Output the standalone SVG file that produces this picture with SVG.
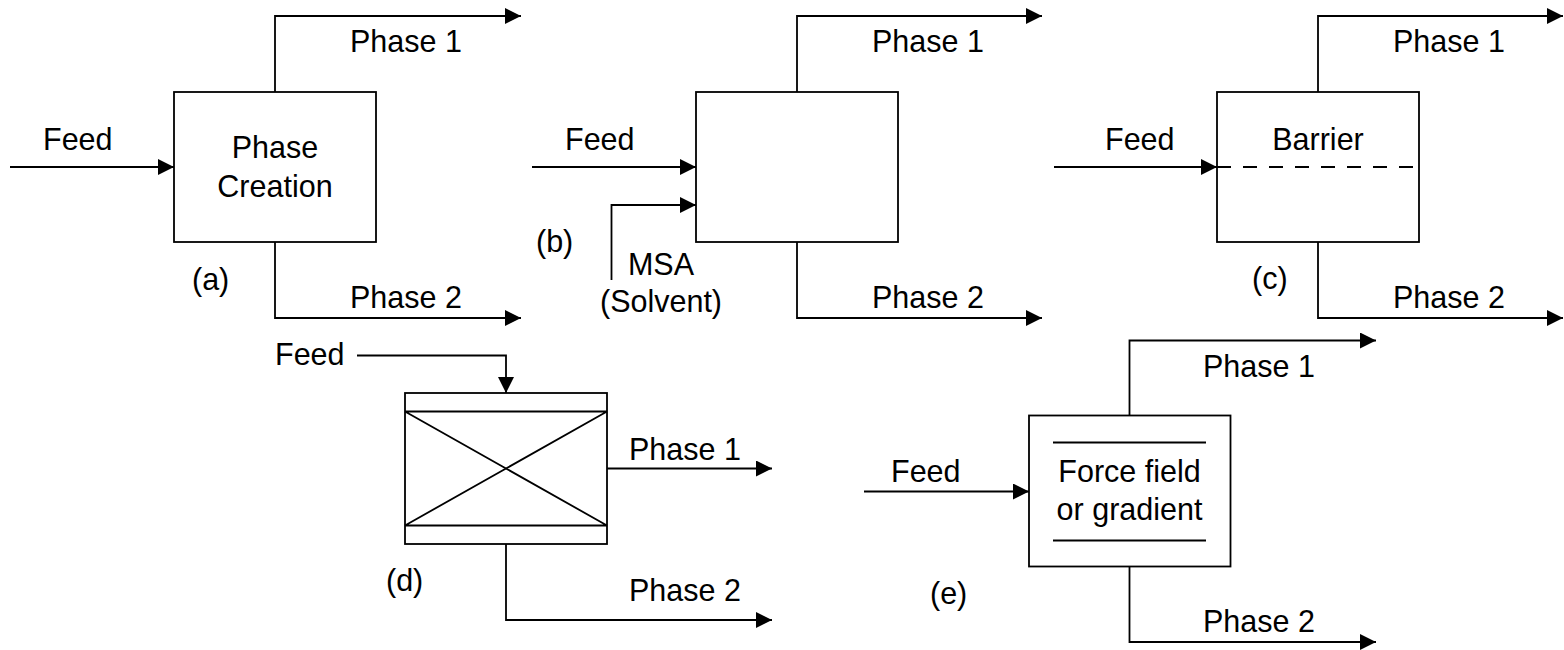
<svg xmlns="http://www.w3.org/2000/svg" width="1564" height="650" viewBox="0 0 1564 650">
<style>
.box{fill:#fff;stroke:#000;stroke-width:1.8}
.ln{fill:none;stroke:#000;stroke-width:1.8}
.pipe{fill:none;stroke:#000;stroke-width:1.8;marker-end:url(#ah)}
.dash{fill:none;stroke:#000;stroke-width:1.8;stroke-dasharray:14 12}
text{font-family:"Liberation Sans",Arial,sans-serif;font-size:30.5px;fill:#000}
.c{text-anchor:middle}
</style>
<defs>
<marker id="ah" markerUnits="userSpaceOnUse" markerWidth="16" markerHeight="16" refX="16" refY="8" orient="auto">
<path d="M0,0 L16,8 L0,16 Z" fill="#000"/>
</marker>
</defs>
<rect width="1564" height="650" fill="#fff"/>

<g id="connectors">
<!-- (a) -->
<path class="pipe" d="M10,167 H174"/>
<path class="pipe" d="M275,92 V16 H521"/>
<path class="pipe" d="M275,242 V318 H521"/>
<!-- (b) -->
<path class="pipe" d="M532,167 H696"/>
<path class="pipe" d="M611.5,280 V205 H696"/>
<path class="pipe" d="M797,92 V16 H1042"/>
<path class="pipe" d="M797,242 V318 H1042"/>
<!-- (c) -->
<path class="pipe" d="M1054,167 H1217"/>
<path class="pipe" d="M1318,92 V16 H1563"/>
<path class="pipe" d="M1318,242 V318 H1563"/>
<!-- (d) -->
<path class="pipe" d="M357,355.5 H506 V393"/>
<path class="pipe" d="M607,468.5 H772"/>
<path class="pipe" d="M506,544 V620 H772"/>
<!-- (e) -->
<path class="pipe" d="M864,491.5 H1029"/>
<path class="pipe" d="M1129.5,415.5 V340.5 H1376"/>
<path class="pipe" d="M1129.5,566.5 V642 H1376"/>
</g>

<g id="node-a">
<rect class="box" x="174" y="92" width="202" height="150"/>
<text class="c" x="275" y="158">Phase</text>
<text class="c" x="275" y="196.5">Creation</text>
</g>

<g id="node-b">
<rect class="box" x="696" y="92" width="202" height="150"/>
</g>

<g id="node-c">
<rect class="box" x="1217" y="92" width="202" height="150"/>
<path class="dash" d="M1217,167 H1419"/>
<text class="c" x="1318" y="150">Barrier</text>
</g>

<g id="node-d">
<rect class="box" x="405" y="393" width="202" height="151"/>
<path class="ln" d="M405,411.5 H607 M405,525.5 H607 M405,411.5 L607,525.5 M405,525.5 L607,411.5"/>
</g>

<g id="node-e">
<rect class="box" x="1029" y="415.5" width="201.5" height="151"/>
<path class="ln" d="M1053,442.5 H1206 M1053,540.5 H1206"/>
<text class="c" x="1129.5" y="481.5">Force field</text>
<text class="c" x="1129.5" y="519.5">or gradient</text>
</g>

<g id="labels">
<!-- (a) -->
<text x="43" y="150">Feed</text>
<text x="350" y="52">Phase 1</text>
<text x="350" y="308">Phase 2</text>
<text x="192" y="290">(a)</text>
<!-- (b) -->
<text x="565" y="150">Feed</text>
<text x="872" y="52">Phase 1</text>
<text x="872" y="308">Phase 2</text>
<text x="536" y="252">(b)</text>
<text class="c" x="661" y="275">MSA</text>
<text class="c" x="661" y="311.5">(Solvent)</text>
<!-- (c) -->
<text x="1105" y="150">Feed</text>
<text x="1393" y="52">Phase 1</text>
<text x="1393" y="308">Phase 2</text>
<text x="1252" y="289">(c)</text>
<!-- (d) -->
<text x="275" y="365">Feed</text>
<text x="629" y="459.5">Phase 1</text>
<text x="629" y="601">Phase 2</text>
<text x="386" y="591">(d)</text>
<!-- (e) -->
<text x="891" y="481.5">Feed</text>
<text x="1203" y="377">Phase 1</text>
<text x="1203" y="632">Phase 2</text>
<text x="930" y="604">(e)</text>
</g>
</svg>
